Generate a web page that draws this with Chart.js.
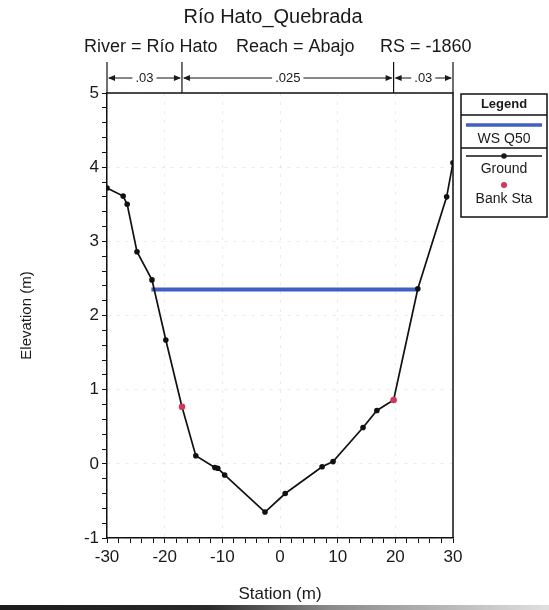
<!DOCTYPE html>
<html>
<head>
<meta charset="utf-8">
<script src="https://cdn.jsdelivr.net/npm/chart.js@4.4.0/dist/chart.umd.min.js"></script>
<style>
  html, body { margin: 0; padding: 0; background: #fff; }
</style>
</head>
<body>
<canvas id="grafico" width="549" height="610"></canvas>
<script>
// datos de la sección transversal
const estaciones = [-30, -27.2, -26.5, -24.8, -22.2, -19.8, -17.0, -14.6, -11.3, -10.8, -9.6, -2.6, 0.9, 7.3, 9.2, 14.4, 16.8, 19.7, 23.9, 28.9, 30];
const elevaciones = [3.72, 3.61, 3.50, 2.86, 2.48, 1.67, 0.77, 0.11, -0.05, -0.06, -0.15, -0.65, -0.40, -0.04, 0.03, 0.49, 0.72, 0.86, 2.36, 3.60, 4.06];
const wsEstaciones = [-22.3, 23.9];
const wsElevaciones = [2.35, 2.35];
const bancoEstaciones = [-17.0, 19.7];
const bancoElevaciones = [0.77, 0.86];
const nValores = ['.03', '.025', '.03'];
const nLimites = [-30, -17.0, 19.7, 30];
const xTicks = [-30, -20, -10, 0, 10, 20, 30];
const yTicks = [-1, 0, 1, 2, 3, 4, 5];
const titulo = 'Río Hato_Quebrada';
const subtitulo = ['River = Río Hato', 'Reach = Abajo', 'RS = -1860'];
const leyenda = ['WS Q50', 'Ground', 'Bank Sta'];

const FUENTE = '"Liberation Sans", Arial, sans-serif';
const AZUL = '#3f5fc4';
const ROJO = '#d8345a';

function puntos(xs, ys) {
  return xs.map((v, i) => ({ x: v, y: ys[i] }));
}
function esMayor(v, lista) {
  return lista.some(t => Math.abs(t - v) < 1e-6);
}

const decoracion = {
  id: 'decoracion',
  beforeDraw(chart) {
    const ctx = chart.ctx;
    ctx.save();
    ctx.fillStyle = '#fff';
    ctx.fillRect(0, 0, chart.width, chart.height);
    ctx.restore();
  },
  afterDraw(chart) {
    const { ctx, chartArea: a, scales: { x } } = chart;
    ctx.save();
    // marco superior y derecho
    ctx.strokeStyle = '#111';
    ctx.lineWidth = 1.5;
    ctx.beginPath();
    ctx.moveTo(a.left, a.top);
    ctx.lineTo(a.right, a.top);
    ctx.lineTo(a.right, a.bottom);
    ctx.stroke();

    // titulo y subtitulo
    ctx.fillStyle = '#1a1a1a';
    ctx.textBaseline = 'middle';
    ctx.textAlign = 'center';
    ctx.font = '20px ' + FUENTE;
    ctx.fillText(titulo, 273, 17);
    ctx.font = '18px ' + FUENTE;
    ctx.textAlign = 'left';
    ctx.fillText(subtitulo[0], 84, 47);
    ctx.fillText(subtitulo[1], 236, 47);
    ctx.fillText(subtitulo[2], 380, 47);

    // valores de n de Manning
    const yN = 78;
    const px = nLimites.map(v => x.getPixelForValue(v));
    ctx.lineWidth = 1.2;
    px.forEach(p => {
      ctx.beginPath();
      ctx.moveTo(p, 62);
      ctx.lineTo(p, a.top);
      ctx.stroke();
    });
    ctx.font = '13px ' + FUENTE;
    ctx.textAlign = 'center';
    const flecha = (xp, dir) => {
      ctx.beginPath();
      ctx.moveTo(xp, yN);
      ctx.lineTo(xp - dir * 7, yN - 3);
      ctx.lineTo(xp - dir * 7, yN + 3);
      ctx.closePath();
      ctx.fill();
    };
    for (let i = 0; i < nValores.length; i++) {
      const x1 = px[i], x2 = px[i + 1];
      const c = (x1 + x2) / 2;
      const tw = ctx.measureText(nValores[i]).width;
      ctx.fillText(nValores[i], c, yN);
      ctx.beginPath();
      ctx.moveTo(x1 + 2, yN);
      ctx.lineTo(c - tw / 2 - 3, yN);
      ctx.moveTo(c + tw / 2 + 3, yN);
      ctx.lineTo(x2 - 2, yN);
      ctx.stroke();
      flecha(x1 + 1, -1);
      flecha(x2 - 1, 1);
    }

    // leyenda
    const lx = 461, lw = 86, ly = 94, lh = 123;
    ctx.fillStyle = '#fff';
    ctx.fillRect(lx, ly, lw, lh);
    ctx.strokeStyle = '#111';
    ctx.lineWidth = 1.5;
    ctx.strokeRect(lx, ly, lw, lh);
    ctx.beginPath();
    ctx.moveTo(lx, 115); ctx.lineTo(lx + lw, 115);
    ctx.moveTo(lx, 148); ctx.lineTo(lx + lw, 148);
    ctx.stroke();
    ctx.fillStyle = '#1a1a1a';
    ctx.font = 'bold 13px ' + FUENTE;
    ctx.fillText('Legend', lx + lw / 2, 104);
    ctx.font = '14px ' + FUENTE;
    ctx.strokeStyle = AZUL;
    ctx.lineWidth = 3.5;
    ctx.beginPath(); ctx.moveTo(lx + 5, 125); ctx.lineTo(lx + lw - 5, 125); ctx.stroke();
    ctx.fillText(leyenda[0], lx + lw / 2, 139);
    ctx.strokeStyle = '#111';
    ctx.lineWidth = 1.6;
    ctx.beginPath(); ctx.moveTo(lx + 5, 156); ctx.lineTo(lx + lw - 5, 156); ctx.stroke();
    ctx.beginPath(); ctx.arc(lx + lw / 2, 156, 2.8, 0, Math.PI * 2); ctx.fill();
    ctx.fillText(leyenda[1], lx + lw / 2, 169);
    ctx.fillStyle = ROJO;
    ctx.beginPath(); ctx.arc(lx + lw / 2, 185, 3, 0, Math.PI * 2); ctx.fill();
    ctx.fillStyle = '#1a1a1a';
    ctx.fillText(leyenda[2], lx + lw / 2, 199);

    // franja oscura inferior del escaneo
    const g = ctx.createLinearGradient(0, 0, chart.width, 0);
    g.addColorStop(0, '#1b1b1b');
    g.addColorStop(0.38, '#2a2a2a');
    g.addColorStop(0.6, '#8a8a8a');
    g.addColorStop(1, '#e0e0e0');
    ctx.fillStyle = g;
    ctx.fillRect(0, 605, chart.width, 5);
    ctx.restore();
  }
};

const ctx = document.getElementById('grafico').getContext('2d');

const config = {
  type: 'scatter',
  data: {
    datasets: [
      {
        label: leyenda[0],
        data: puntos(wsEstaciones, wsElevaciones),
        showLine: true,
        borderColor: AZUL,
        borderWidth: 4,
        pointRadius: 0,
        order: 3
      },
      {
        label: leyenda[1],
        data: puntos(estaciones, elevaciones),
        showLine: true,
        borderColor: '#111',
        borderWidth: 1.7,
        pointRadius: 2.8,
        pointBackgroundColor: '#111',
        pointBorderWidth: 0,
        order: 2
      },
      {
        label: leyenda[2],
        data: puntos(bancoEstaciones, bancoElevaciones),
        showLine: false,
        pointRadius: 3.2,
        pointBackgroundColor: ROJO,
        pointBorderWidth: 0,
        order: 1
      }
    ]
  },
  options: {
    responsive: false,
    animation: false,
    layout: { padding: { left: 0, top: 93, right: 96, bottom: 0 } },
    plugins: {
      legend: { display: false },
      tooltip: { enabled: false },
      title: { display: false }
    },
    scales: {
      x: {
        type: 'linear',
        min: -30,
        max: 30,
        afterFit: s => { s.height = 72; },
        border: { color: '#111', width: 1.5, dash: [3, 6] },
        grid: {
          color: c => esMayor(c.tick.value, xTicks) ? 'rgba(0,0,0,0.08)' : 'rgba(0,0,0,0)',
          tickColor: '#111',
          tickLength: 5
        },
        ticks: {
          stepSize: 2,
          autoSkip: false,
          maxRotation: 0,
          padding: 4,
          color: '#1a1a1a',
          font: { family: FUENTE, size: 17 },
          callback: v => esMayor(v, xTicks) ? Math.round(v) : ''
        },
        title: {
          display: true,
          text: 'Station (m)',
          color: '#1a1a1a',
          font: { family: FUENTE, size: 17 },
          padding: { top: 0, bottom: 5 }
        }
      },
      y: {
        type: 'linear',
        min: -1,
        max: 5,
        afterFit: s => { s.width = 107; },
        border: { color: '#111', width: 1.5, dash: [3, 6] },
        grid: {
          color: c => esMayor(c.tick.value, yTicks) ? 'rgba(0,0,0,0.08)' : 'rgba(0,0,0,0)',
          tickColor: '#111',
          tickLength: 5
        },
        ticks: {
          stepSize: 0.2,
          autoSkip: false,
          padding: 3,
          color: '#1a1a1a',
          font: { family: FUENTE, size: 17 },
          callback: v => esMayor(v, yTicks) ? Math.round(v) : ''
        },
        title: {
          display: true,
          text: 'Elevation (m)',
          color: '#1a1a1a',
          font: { family: FUENTE, size: 15 },
          padding: { top: 18, bottom: 0 }
        }
      }
    }
  },
  plugins: [decoracion]
};

const grafico = new Chart(ctx, config);
</script>
</body>
</html>
